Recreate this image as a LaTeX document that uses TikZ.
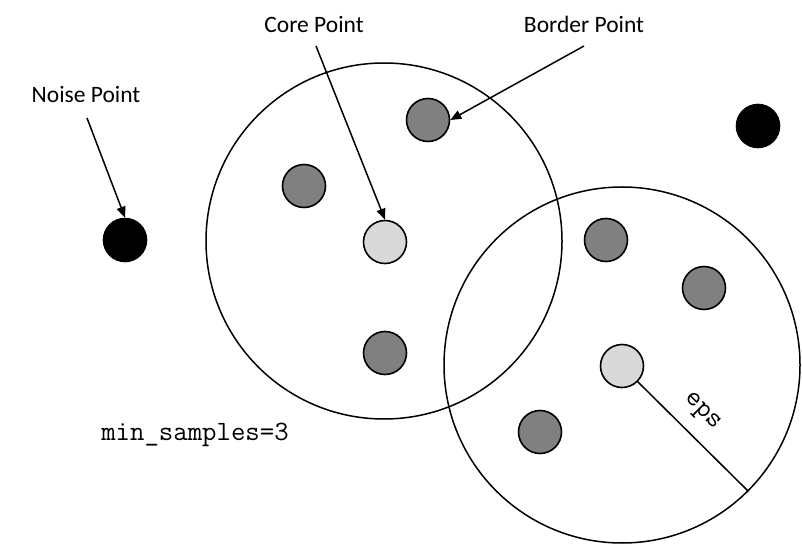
\documentclass[tikz,border=0pt]{standalone}
\usepackage{fontspec}
\setmainfont{Carlito}
\usetikzlibrary{arrows.meta}

\begin{document}
\begin{tikzpicture}[x=1pt, y=1pt,
    corept/.style={circle, draw, line width=1.6pt, fill=black!15, minimum size=43pt, inner sep=0pt},
    borderpt/.style={corept, fill=black!50},
    noisept/.style={corept, fill=black},
    region/.style={circle, draw, line width=1.5pt, minimum size=356pt, inner sep=0pt},
    tag/.style={font=\fontsize{23.5}{28}\selectfont},
    mono/.style={font=\ttfamily\fontsize{28}{32}\selectfont},
    pointer/.style={-{Triangle[length=11pt, width=9pt]}, line width=1.5pt}]
\useasboundingbox (0,0) rectangle (802,546);

\node[region] (regionA) at (384,305) {};
\node[region] (regionB) at (622,181) {};

\node[noisept] (noiseL) at (125,306) {};
\node[noisept] (noiseR) at (758,420) {};
\node[corept] (coreA) at (385,304) {};
\node[corept] (coreB) at (622,180) {};
\node[borderpt] (borderA) at (428,426) {};
\node[borderpt] (borderB) at (304,360) {};
\node[borderpt] (borderC) at (385,193) {};
\node[borderpt] (borderD) at (606,306) {};
\node[borderpt] (borderE) at (704,258) {};
\node[borderpt] (borderF) at (540,114) {};

\node[tag] (noiselbl) at (86,451) {Noise Point};
\node[tag] (corelbl) at (314,521) {Core Point};
\node[tag] (borderlbl) at (584,522) {Border Point};
\node[mono] (minlbl) at (195,111) {min\_samples=3};

\coordinate (noisefrom) at (87,428);
\coordinate (corefrom) at (316,500);
\coordinate (borderfrom) at (584,500);

\draw[pointer] (noisefrom) -- (noiseL.north);
\draw[pointer] (corefrom) -- (coreA.north);
\draw[pointer] (borderfrom) -- (borderA.east);

\draw[line width=1.5pt] (coreB.-45) -- (regionB.-45);
\node[mono, rotate=-45, inner sep=0pt] (epslbl) at (702,134) {eps};
\end{tikzpicture}
\end{document}
